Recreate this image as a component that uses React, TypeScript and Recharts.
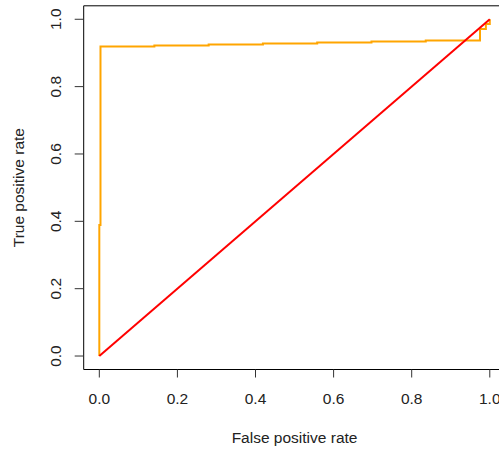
import React from 'react';
import {
  LineChart,
  Line,
  XAxis,
  YAxis,
  ReferenceArea,
  Label,
} from 'recharts';

// ROC curve (false positive rate / true positive rate)
const rocFpr = [0, 0, 0.003, 0.003, 0.141, 0.141, 0.28, 0.28, 0.419, 0.419, 0.558, 0.558, 0.697, 0.697, 0.836, 0.836, 0.975, 0.975, 0.99, 0.99, 1, 1];
const rocTpr = [0, 0.389, 0.389, 0.919, 0.919, 0.922, 0.922, 0.925, 0.925, 0.928, 0.928, 0.931, 0.931, 0.934, 0.934, 0.937, 0.937, 0.971, 0.971, 0.986, 0.986, 1];

// chance line
const chanceFpr = [0, 1];
const chanceTpr = [0, 1];

const axisTicks = [0, 0.2, 0.4, 0.6, 0.8, 1];

const rocData = rocFpr.map((x, i) => ({ x, y: rocTpr[i] }));
const chanceData = chanceFpr.map((x, i) => ({ x, y: chanceTpr[i] }));

const FONT = '"Liberation Sans", Arial, sans-serif';
const TEXT = '#222';

const YTick = (props: any) => {
  const { y, payload } = props;
  const bx = 61.5;
  return (
    <text
      x={bx}
      y={y}
      transform={`rotate(-90, ${bx}, ${y})`}
      textAnchor="middle"
      fontSize={15.5}
      fontFamily={FONT}
      fill={TEXT}
    >
      {payload.value.toFixed(1)}
    </text>
  );
};

const YTitle = (props: any) => {
  const { viewBox } = props;
  const cy = viewBox.y + viewBox.height / 2;
  const bx = 24;
  return (
    <text
      x={bx}
      y={cy}
      transform={`rotate(-90, ${bx}, ${cy})`}
      textAnchor="middle"
      fontSize={15.5}
      fontFamily={FONT}
      fill={TEXT}
    >
      True positive rate
    </text>
  );
};

const XTitle = (props: any) => {
  const { viewBox } = props;
  const cx = viewBox.x + viewBox.width / 2;
  return (
    <text x={cx} y={443} textAnchor="middle" fontSize={15.5} fontFamily={FONT} fill={TEXT}>
      False positive rate
    </text>
  );
};

export default function App() {
  return (
    <div
      style={{
        position: 'absolute',
        left: 0,
        top: 0,
        width: 499,
        height: 451,
        overflow: 'hidden',
        background: '#fff',
      }}
    >
      <LineChart
        width={510}
        height={451}
        margin={{ top: 5.8, right: 4.6, bottom: 21.5, left: 23.7 }}
      >
        <XAxis
          type="number"
          dataKey="x"
          domain={[-0.04, 1.04]}
          ticks={axisTicks}
          allowDataOverflow
          axisLine={false}
          tickSize={8}
          tickMargin={15.5}
          tickLine={{ stroke: '#333' }}
          tickFormatter={(v: number) => v.toFixed(1)}
          tick={{ fill: TEXT, fontSize: 15.5, fontFamily: FONT }}
          height={60}
        >
          <Label content={<XTitle />} />
        </XAxis>
        <YAxis
          type="number"
          dataKey="y"
          domain={[-0.04, 1.04]}
          ticks={axisTicks}
          allowDataOverflow
          axisLine={false}
          tickSize={9}
          tickLine={{ stroke: '#333' }}
          tick={<YTick />}
          width={60}
        >
          <Label content={<YTitle />} />
        </YAxis>
        <ReferenceArea
          x1={-0.04}
          x2={1.04}
          y1={-0.04}
          y2={1.04}
          fill="none"
          stroke="#000"
          strokeWidth={1}
          ifOverflow="visible"
        />
        <Line
          data={rocData}
          dataKey="y"
          type="linear"
          stroke="#FFA500"
          strokeWidth={2}
          dot={false}
          isAnimationActive={false}
        />
        <Line
          data={chanceData}
          dataKey="y"
          type="linear"
          stroke="#FF0000"
          strokeWidth={2}
          dot={false}
          isAnimationActive={false}
        />
      </LineChart>
    </div>
  );
}
